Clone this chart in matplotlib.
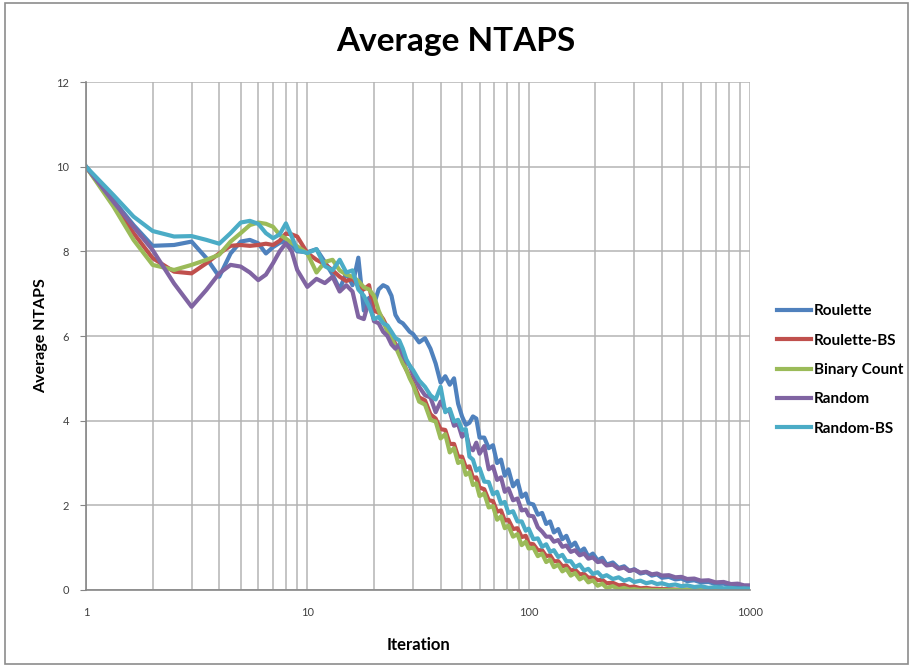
import numpy as np
import matplotlib
matplotlib.use("Agg")
from matplotlib import pyplot as plt
from matplotlib.patches import Rectangle

plt.rcParams['font.family'] = ['Lato', 'DejaVu Sans']

# iteration grid (shared by all series)
iters = [1, 1.33, 1.64, 2, 2.5, 3, 3.5, 4, 4.5, 5, 5.5, 6, 6.5, 7, 7.5, 8, 8.5, 9, 10,
         11, 12, 13, 14, 15, 16, 17, 18, 19, 20, 21, 22, 23, 24, 25, 26, 27, 28, 29, 30,
         32, 34, 36, 38, 40, 42, 44, 46, 48, 50, 52, 54, 56, 58, 60,
         63, 66, 69, 72, 75, 78, 81,
         85, 89, 93, 97, 100,
         105, 110, 115, 120, 125, 130, 136, 142, 148, 155, 162, 170, 178, 186, 195,
         205, 215, 225, 240, 255, 270, 285, 300, 320, 340, 360, 380, 400,
         430, 460, 490, 520, 560, 600, 650, 700, 760, 820, 880, 940, 1000]

roulette = [10.0, 9.21, 8.62, 8.13, 8.15, 8.23, 7.84, 7.40, 7.95, 8.23, 8.27, 8.19, 7.95, 8.10, 8.20, 8.25, 8.15, 8.00, 7.98,
            8.05, 7.75, 7.45, 7.10, 7.50, 7.20, 7.85, 6.60, 6.90, 6.75, 7.10, 7.20, 7.15, 6.95, 6.50, 6.35, 6.30, 6.20, 6.10, 6.05,
            5.85, 5.95, 5.70, 5.35, 4.90, 5.05, 4.85, 5.00, 4.40, 4.10, 3.90, 3.95, 4.10, 4.05, 3.60,
            3.60, 3.35, 3.42, 3.00, 3.08, 2.70, 2.85,
            2.45, 2.58, 2.20, 2.28, 2.05,
            2.02, 1.78, 1.82, 1.56, 1.62, 1.36, 1.44, 1.20, 1.28, 1.03, 1.12, 0.90, 0.98, 0.79, 0.86,
            0.70, 0.76, 0.60, 0.65, 0.52, 0.56, 0.45, 0.49, 0.39, 0.42, 0.34, 0.37, 0.29,
            0.31, 0.25, 0.27, 0.21, 0.23, 0.18, 0.19, 0.14, 0.15, 0.11, 0.12, 0.08, 0.08]

roulette_bs = [10.0, 9.13, 8.43, 7.84, 7.52, 7.48, 7.72, 7.95, 8.13, 8.15, 8.13, 8.15, 8.18, 8.15, 8.25, 8.42, 8.40, 8.35, 7.96,
               7.80, 7.70, 7.55, 7.40, 7.30, 7.35, 7.20, 7.10, 7.20, 6.60, 6.55, 6.40, 6.20, 6.05, 5.80, 5.60, 5.40, 5.20, 5.05, 4.90,
               4.55, 4.48, 4.15, 4.05, 3.80, 3.78, 3.45, 3.45, 3.15, 3.15, 2.90, 2.92, 2.65, 2.66, 2.42,
               2.38, 2.12, 2.10, 1.85, 1.88, 1.64, 1.66,
               1.44, 1.46, 1.25, 1.28, 1.10,
               1.08, 0.94, 0.94, 0.80, 0.82, 0.68, 0.68, 0.56, 0.58, 0.46, 0.48, 0.37, 0.38, 0.29, 0.30,
               0.23, 0.24, 0.16, 0.17, 0.11, 0.12, 0.07, 0.08, 0.04, 0.05, 0.03, 0.03, 0.02,
               0.02, 0.01, 0.01, 0.01, 0.01, 0.0, 0.01, 0.0, 0.0, 0.0, 0.0, 0.0, 0.0]

binary_count = [10.0, 9.06, 8.27, 7.68, 7.56, 7.68, 7.80, 7.92, 8.23, 8.43, 8.62, 8.68, 8.65, 8.58, 8.39, 8.30, 8.20, 8.12, 7.95,
                7.50, 7.75, 7.80, 7.55, 7.45, 7.40, 7.30, 7.15, 7.10, 6.95, 6.60, 6.35, 6.10, 5.95, 5.75, 5.55, 5.35, 5.20, 5.00, 4.85,
                4.45, 4.38, 4.02, 3.98, 3.58, 3.68, 3.25, 3.35, 3.00, 3.05, 2.72, 2.78, 2.48, 2.52, 2.22,
                2.28, 1.95, 1.98, 1.66, 1.74, 1.46, 1.52,
                1.26, 1.32, 1.06, 1.14, 0.98,
                1.00, 0.80, 0.86, 0.66, 0.72, 0.54, 0.60, 0.44, 0.50, 0.34, 0.40, 0.25, 0.31, 0.18, 0.23,
                0.10, 0.15, 0.05, 0.09, 0.02, 0.05, 0.01, 0.02, 0.0, 0.01, 0.0, 0.0, 0.0,
                0.0, 0.0, 0.0, 0.0, 0.0, 0.0, 0.0, 0.0, 0.0, 0.0, 0.0, 0.0, 0.0]

random_ = [10.0, 9.17, 8.58, 8.03, 7.24, 6.69, 7.09, 7.48, 7.68, 7.64, 7.50, 7.32, 7.45, 7.72, 8.00, 8.19, 8.00, 7.56, 7.16,
           7.35, 7.25, 7.40, 7.05, 7.20, 7.05, 6.45, 6.40, 6.85, 6.35, 6.30, 6.10, 6.00, 5.80, 5.70, 5.80, 5.55, 5.40, 5.30, 5.10,
           4.80, 4.60, 4.55, 4.20, 4.45, 4.25, 4.22, 3.88, 3.92, 3.62, 3.72, 3.38, 3.30, 3.48, 3.22,
           3.40, 2.85, 2.92, 2.60, 2.66, 2.32, 2.40,
           2.12, 2.16, 1.88, 1.90, 1.76,
           1.74, 1.48, 1.38, 1.26, 1.26, 1.14, 1.18, 1.02, 1.05, 0.90, 0.94, 0.82, 0.86, 0.74, 0.77,
           0.66, 0.68, 0.58, 0.60, 0.50, 0.53, 0.45, 0.48, 0.41, 0.43, 0.37, 0.39, 0.34,
           0.35, 0.30, 0.31, 0.26, 0.27, 0.22, 0.23, 0.18, 0.19, 0.14, 0.15, 0.11, 0.11]

random_bs = [10.0, 9.33, 8.82, 8.48, 8.35, 8.36, 8.27, 8.18, 8.43, 8.68, 8.72, 8.65, 8.43, 8.31, 8.40, 8.66, 8.35, 8.03, 7.96,
             8.05, 7.65, 7.55, 7.80, 7.50, 7.55, 7.10, 6.95, 6.70, 6.40, 6.45, 6.30, 6.25, 6.10, 5.95, 5.90, 5.70, 5.45, 5.30, 5.20,
             4.95, 4.80, 4.60, 4.50, 4.80, 4.20, 4.28, 3.98, 4.02, 3.78, 3.80, 3.15, 3.08, 2.82, 2.88,
             2.56, 2.55, 2.26, 2.32, 2.04, 2.08, 1.82,
             1.86, 1.62, 1.62, 1.40, 1.45,
             1.20, 1.22, 1.02, 1.08, 0.90, 0.94, 0.78, 0.83, 0.68, 0.68, 0.54, 0.60, 0.46, 0.50, 0.38,
             0.42, 0.31, 0.35, 0.26, 0.30, 0.22, 0.26, 0.19, 0.22, 0.16, 0.19, 0.14, 0.16,
             0.11, 0.13, 0.09, 0.11, 0.07, 0.09, 0.05, 0.07, 0.04, 0.05, 0.03, 0.04, 0.03]

names = ['Roulette', 'Roulette-BS', 'Binary Count', 'Random', 'Random-BS']
series = [roulette, roulette_bs, binary_count, random_, random_bs]
colors = ['#4F81BD', '#C0504D', '#9BBB59', '#8064A2', '#4BACC6']

fig = plt.figure(figsize=(9.11, 6.69), dpi=100)
fig.patches.append(Rectangle((5 / 911, 5 / 669), 903 / 911, 661 / 669, transform=fig.transFigure,
                             fill=False, edgecolor='#8c8c8c', lw=1.2))
ax = fig.add_axes([86 / 911, 1 - 590 / 669, (750 - 86) / 911, (590 - 82) / 669])

for name, vals, c in zip(names, series, colors):
    ax.plot(iters, vals, color=c, lw=3.0, label=name, solid_joinstyle='round')

ax.set_xscale('log')
ax.set_xlim(1, 1000)
ax.set_ylim(0, 12)
ax.set_yticks(range(0, 13, 2))
ax.set_xticks([1, 10, 100, 1000])
ax.set_xticklabels(['1', '10', '100', '1000'])
ax.grid(True, which='both', axis='x', color='#b4b4b4', lw=1.1)
ax.grid(True, which='major', axis='y', color='#b4b4b4', lw=1.1)
ax.set_axisbelow(True)
for s in ['top', 'right']:
    ax.spines[s].set_visible(False)
for s in ['left', 'bottom']:
    ax.spines[s].set_color('#868686')
    ax.spines[s].set_linewidth(1.2)
ax.tick_params(axis='both', which='both', length=0, labelsize=8, colors='#404040')
ax.tick_params(axis='y', length=4, color='#868686', pad=8)
ax.tick_params(axis='x', pad=12)

fig.text(0.5, 1 - 42 / 669, 'Average NTAPS', fontsize=24, fontweight='bold',
         ha='center', va='center')
ax.set_xlabel('Iteration', fontsize=12, fontweight='bold', labelpad=14)
ax.set_ylabel('Average NTAPS', fontsize=11.5, fontweight='bold', labelpad=6)

leg = ax.legend(loc='center left', bbox_to_anchor=(1.02, 0.433), frameon=False,
                prop={'weight': 'bold', 'size': 11}, handlelength=2.2, handletextpad=0.2,
                labelspacing=1.0)

fig.savefig('out.png', dpi=100)
